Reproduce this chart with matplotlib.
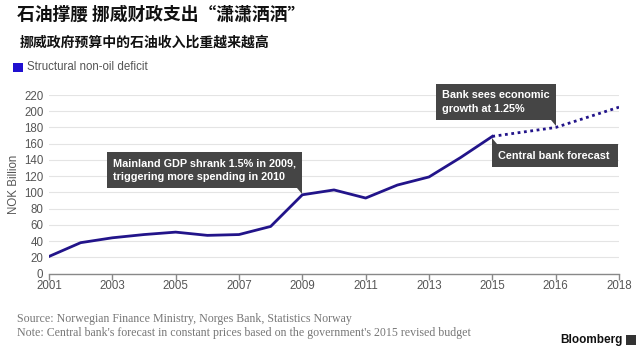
import matplotlib
matplotlib.use("Agg")
import matplotlib.pyplot as plt
from matplotlib.patches import Rectangle, Polygon

plt.rcParams['font.family'] = ['Liberation Sans', 'DejaVu Sans']

# ---- data ----
hist_years = ['2001', '2002', '2003', '2004', '2005', '2006', '2007', '2008',
              '2009', '2010', '2011', '2012', '2013', '2014', '2015']
hist_values = [21, 38, 44, 48, 51, 47, 48, 58, 97, 103, 93, 109, 119, 143, 169]
fc_years = ['2015', '2016', '2018']
fc_values = [169, 180, 205]
tick_labels = ['2001', '2003', '2005', '2007', '2009', '2011', '2013', '2015', '2016', '2018']
y_ticks = list(range(0, 221, 20))

# x positions: annual through 2015, then evenly spaced tick categories
all_cats = hist_years + ['', '2016', '2017', '2018']
pos = {c: i for i, c in enumerate(all_cats) if c}

LINE = '#22148a'
GREY_BOX = '#454545'

fig = plt.figure(figsize=(6.4, 3.51), dpi=100)
W, H = 640, 351
ax = fig.add_axes([49 / W, (H - 273.5) / H, (619 - 49) / W, (273.5 - 95) / H])

ax.plot([pos[y] for y in hist_years], hist_values, color=LINE, lw=2, solid_joinstyle='round', zorder=3)
ax.plot([pos[y] for y in fc_years], fc_values, color=LINE, lw=2, ls=(0, (1, 1.3)), zorder=3)

ax.set_xlim(0, 18)
ax.set_ylim(0, 220)
ax.set_yticks(y_ticks)
ax.set_xticks([pos[t] for t in tick_labels])
ax.set_xticklabels(tick_labels)
ax.grid(axis='y', color='#e4e4e4', lw=0.8)
ax.set_axisbelow(True)
for s in ['top', 'right', 'left']:
    ax.spines[s].set_visible(False)
ax.spines['bottom'].set_color('#888888')
ax.spines['bottom'].set_linewidth(1)
ax.tick_params(axis='x', colors='#888888', length=4, width=1, labelcolor='#555555', labelsize=8.3, pad=1)
ax.tick_params(axis='y', length=0, labelcolor='#555555', labelsize=8.3, pad=4)
ax.set_ylabel('NOK Billion', color='#555555', fontsize=8.3, labelpad=3)

# px -> data helpers for annotation boxes
def dx(px):
    return (px - 49) / ((619 - 49) / 18)

def dy(py):
    return (273.5 - py) / ((273.5 - 95) / 220)

def box(x0, y0, x1, y1, lines, tri):
    r = Rectangle((dx(x0), dy(y1)), dx(x1) - dx(x0), dy(y0) - dy(y1),
                  facecolor=GREY_BOX, edgecolor='none', clip_on=False, zorder=5)
    ax.add_patch(r)
    p = Polygon([(dx(a), dy(b)) for a, b in tri], closed=True, facecolor=GREY_BOX,
                edgecolor='none', clip_on=False, zorder=5)
    ax.add_patch(p)
    ax.text(dx(x0 + 6), dy((y0 + y1) / 2), lines, color='white', fontsize=7.8,
            fontweight='bold', ha='left', va='center', linespacing=1.4, zorder=6, clip_on=False)

box(107, 152, 302, 188, 'Mainland GDP shrank 1.5% in 2009,\ntriggering more spending in 2010',
    [(297, 188), (302, 188), (302, 194)])
box(436, 84, 556, 120, 'Bank sees economic\ngrowth at 1.25%',
    [(551, 120), (556, 120), (556, 126)])
box(492, 144, 618, 167, 'Central bank forecast',
    [(492, 144), (492, 138), (497, 144)])

# titles
cjk = ['Noto Sans CJK SC', 'DejaVu Sans']
fig.text(17 / W, 1 - 15 / H, '石油撑腰 挪威财政支出“潇潇洒洒”', family=cjk, fontsize=12.8,
         fontweight='bold', color='#111111', ha='left', va='center')
fig.text(20 / W, 1 - 43 / H, '挪威政府预算中的石油收入比重越来越高', family=cjk, fontsize=10,
         fontweight='bold', color='#111111', ha='left', va='center')

# legend
fig.patches.append(Rectangle((13 / W, 1 - 72 / H), 10 / W, 9 / H, transform=fig.transFigure,
                             facecolor='#2010d0', edgecolor='none'))
fig.text(27 / W, 1 - 67.5 / H, 'Structural non-oil deficit', fontsize=8.3, color='#555555',
         ha='left', va='center')

# footer
fig.text(17 / W, 1 - 319 / H, 'Source: Norwegian Finance Ministry, Norges Bank, Statistics Norway',
         family='Liberation Serif', fontsize=8.6, color='#777777', ha='left', va='center')
fig.text(17 / W, 1 - 333 / H, "Note: Central bank's forecast in constant prices based on the government's 2015 revised budget",
         family='Liberation Serif', fontsize=8.6, color='#777777', ha='left', va='center')
fig.text(623 / W, 1 - 340 / H, 'Bloomberg', fontsize=8.5, fontweight='bold', color='#111111',
         ha='right', va='center')
fig.patches.append(Rectangle((626 / W, 1 - 345 / H), 10 / W, 10 / H, transform=fig.transFigure,
                             facecolor='#333333', edgecolor='none'))

fig.savefig('out.png', dpi=100, facecolor='white')
